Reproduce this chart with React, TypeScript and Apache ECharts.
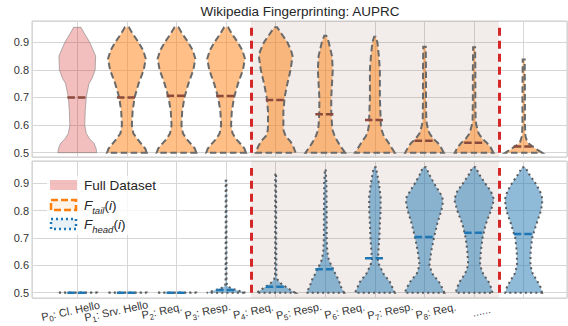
import React, { useEffect, useRef } from "react";
import * as echarts from "echarts";

// ---------------- data ----------------
const categories = [
  "P0: Cl. Hello",
  "P1: Srv. Hello",
  "P2: Req.",
  "P3: Resp.",
  "P4: Req.",
  "P5: Resp.",
  "P6: Req.",
  "P7: Resp.",
  "P8: Req.",
  "......",
];

// violin profiles: [value, half-width in category units]
const tailP0 = [[0.5, 0.39], [0.515, 0.38], [0.533, 0.34], [0.55, 0.25], [0.57, 0.18], [0.6, 0.15], [0.65, 0.16], [0.7, 0.18], [0.75, 0.235], [0.77, 0.3], [0.8, 0.36], [0.85, 0.37], [0.9, 0.25], [0.93, 0.15], [0.954, 0.075]];
const tailP1 = [[0.5, 0.4], [0.515, 0.37], [0.53, 0.3], [0.55, 0.21], [0.57, 0.13], [0.6, 0.1], [0.65, 0.115], [0.7, 0.155], [0.75, 0.235], [0.8, 0.34], [0.84, 0.38], [0.87, 0.33], [0.9, 0.235], [0.93, 0.12], [0.954, 0.04]];
const tailP2 = [[0.5, 0.4], [0.515, 0.37], [0.53, 0.3], [0.55, 0.2], [0.57, 0.13], [0.6, 0.1], [0.65, 0.115], [0.7, 0.16], [0.75, 0.24], [0.8, 0.34], [0.84, 0.38], [0.87, 0.33], [0.9, 0.235], [0.93, 0.12], [0.954, 0.04]];
const tailP3 = [[0.5, 0.4], [0.515, 0.37], [0.53, 0.3], [0.55, 0.2], [0.57, 0.13], [0.6, 0.1], [0.65, 0.115], [0.7, 0.16], [0.75, 0.24], [0.8, 0.34], [0.84, 0.38], [0.87, 0.33], [0.9, 0.235], [0.93, 0.12], [0.954, 0.04]];
const tailP4 = [[0.5, 0.4], [0.52, 0.36], [0.54, 0.3], [0.56, 0.2], [0.58, 0.16], [0.6, 0.155], [0.65, 0.155], [0.7, 0.18], [0.75, 0.235], [0.8, 0.3], [0.85, 0.34], [0.87, 0.31], [0.9, 0.235], [0.93, 0.12], [0.954, 0.03]];
const tailP5 = [[0.5, 0.4], [0.52, 0.32], [0.54, 0.25], [0.56, 0.19], [0.58, 0.15], [0.6, 0.135], [0.65, 0.12], [0.7, 0.12], [0.75, 0.135], [0.8, 0.15], [0.85, 0.135], [0.9, 0.07], [0.924, 0.02]];
const tailP6 = [[0.5, 0.4], [0.52, 0.33], [0.54, 0.26], [0.56, 0.18], [0.58, 0.14], [0.6, 0.12], [0.65, 0.11], [0.7, 0.1], [0.8, 0.1], [0.85, 0.08], [0.9, 0.05], [0.92, 0.015]];
const tailP7 = [[0.5, 0.39], [0.52, 0.33], [0.535, 0.27], [0.55, 0.18], [0.57, 0.1], [0.6, 0.05], [0.62, 0.035], [0.7, 0.03], [0.8, 0.03], [0.884, 0.025]];
const tailP8 = [[0.5, 0.39], [0.52, 0.33], [0.535, 0.26], [0.55, 0.17], [0.57, 0.09], [0.6, 0.045], [0.62, 0.03], [0.7, 0.025], [0.8, 0.025], [0.882, 0.02]];
const tailP9 = [[0.5, 0.37], [0.51, 0.28], [0.52, 0.2], [0.53, 0.12], [0.54, 0.07], [0.56, 0.035], [0.6, 0.025], [0.7, 0.025], [0.838, 0.02]];
const tailProfiles = [tailP0, tailP1, tailP2, tailP3, tailP4, tailP5, tailP6, tailP7, tailP8, tailP9];
const tailMedians = [0.7, 0.7, 0.706, 0.705, 0.691, 0.639, 0.618, 0.543, 0.536, 0.522];

const headP0 = [[0.5, 0.4], [0.5006, 0.4]];
const headP1 = [[0.5, 0.4], [0.5006, 0.4]];
const headP2 = [[0.5, 0.4], [0.5006, 0.4]];
const headP3 = [[0.5, 0.39], [0.505, 0.3], [0.51, 0.2], [0.515, 0.12], [0.52, 0.06], [0.525, 0.02], [0.54, 0.01], [0.7, 0.008], [0.909, 0.008]];
const headP4 = [[0.5, 0.39], [0.51, 0.3], [0.52, 0.22], [0.53, 0.13], [0.54, 0.07], [0.55, 0.03], [0.56, 0.015], [0.7, 0.01], [0.936, 0.008]];
const headP5 = [[0.5, 0.38], [0.52, 0.32], [0.546, 0.27], [0.57, 0.2], [0.583, 0.17], [0.6, 0.12], [0.62, 0.07], [0.65, 0.04], [0.7, 0.028], [0.8, 0.028], [0.9, 0.022], [0.95, 0.008]];
const headP6 = [[0.5, 0.4], [0.52, 0.35], [0.54, 0.3], [0.57, 0.17], [0.6, 0.09], [0.62, 0.06], [0.65, 0.07], [0.7, 0.09], [0.75, 0.1], [0.8, 0.115], [0.85, 0.115], [0.9, 0.08], [0.93, 0.05], [0.958, 0.02]];
const headP7 = [[0.5, 0.4], [0.52, 0.35], [0.54, 0.29], [0.57, 0.155], [0.6, 0.1], [0.65, 0.135], [0.7, 0.19], [0.75, 0.255], [0.8, 0.34], [0.83, 0.37], [0.85, 0.36], [0.9, 0.19], [0.93, 0.1], [0.958, 0.03]];
const headP8 = [[0.5, 0.37], [0.52, 0.34], [0.54, 0.29], [0.57, 0.18], [0.6, 0.12], [0.65, 0.135], [0.7, 0.17], [0.75, 0.235], [0.8, 0.34], [0.84, 0.4], [0.87, 0.34], [0.9, 0.22], [0.93, 0.11], [0.958, 0.03]];
const headP9 = [[0.5, 0.37], [0.52, 0.34], [0.54, 0.28], [0.57, 0.18], [0.6, 0.135], [0.65, 0.14], [0.7, 0.17], [0.75, 0.255], [0.8, 0.35], [0.84, 0.38], [0.87, 0.33], [0.9, 0.235], [0.93, 0.12], [0.958, 0.03]];
const headProfiles = [headP0, headP1, headP2, headP3, headP4, headP5, headP6, headP7, headP8, headP9];
const headMedians = [0.5, 0.5, 0.5, 0.51, 0.522, 0.586, 0.626, 0.703, 0.719, 0.714];

const phaseBoundaries = [3.5, 8.5];
const boundaryRange = [0.5, 0.955];
const shadedSpan = [3.5, 8.5];
const medianHalfWidth = 0.2;

// ---------------- styles ----------------
const FONT = "Liberation Sans";
const GRID_COLOR = "#d6d6d6";

function makeRender(profiles: number[][][], medians: number[], kind: "tail" | "head") {
  return (params: any, api: any) => {
    const i = api.value(0);
    const prof = profiles[i];
    const right = prof.map(([y, w]) => api.coord([i + w, y]));
    const left = prof
      .slice()
      .reverse()
      .map(([y, w]) => api.coord([i - w, y]));
    const pts = right.concat(left);
    const m = medians[i];
    const a = api.coord([i - medianHalfWidth, m]);
    const b = api.coord([i + medianHalfWidth, m]);
    let body: any;
    let med: any;
    if (kind === "tail" && i === 0) {
      body = { fill: "rgba(214,39,40,0.3)", stroke: "rgba(120,120,120,0.55)", lineWidth: 1 };
      med = { stroke: "#8b4a3c", lineWidth: 2.5, lineDash: [7.5, 3] };
    } else if (kind === "tail") {
      body = { fill: "rgba(255,127,14,0.5)", stroke: "#6a6a6a", lineWidth: 2, lineDash: [6.5, 3.5] };
      med = { stroke: "#8b4a3c", lineWidth: 2.5, lineDash: [7.5, 3] };
    } else {
      body = { fill: "rgba(31,119,180,0.5)", stroke: "#5a5a5a", lineWidth: 2, lineDash: [2, 3.2] };
      med = { stroke: "#1f77b4", lineWidth: 2.5, lineDash: [7.5, 3] };
    }
    return {
      type: "group",
      children: [
        { type: "polygon", shape: { points: pts }, style: body },
        { type: "line", shape: { x1: a[0], y1: a[1], x2: b[0], y2: b[1] }, style: med },
      ],
    };
  };
}

function labelFormatter(v: string) {
  const m = /^P(\d+)(.*)$/.exec(v);
  if (!m) return "{p|" + v + "}";
  return "{p|P}{s|" + m[1] + "}{p|" + m[2] + "}";
}

export default function App() {
  const ref = useRef<HTMLDivElement>(null);
  useEffect(() => {
    if (!ref.current) return;
    const chart = echarts.init(ref.current, undefined, { renderer: "svg" });
    const xMin = -0.913;
    const xMax = 9.873;
    const yAxisCommon = (min: number, max: number, gridIndex: number) => ({
      type: "value",
      gridIndex,
      min,
      max,
      minInterval: 0.1,
      maxInterval: 0.1,
      axisLine: { show: false },
      axisTick: { show: false },
      splitLine: { show: true, lineStyle: { color: GRID_COLOR, width: 1 } },
      axisLabel: {
        show: true,
        showMinLabel: false,
        showMaxLabel: false,
        formatter: (v: number) => v.toFixed(1),
        fontSize: 11,
        fontFamily: FONT,
        color: "#333333",
        margin: 3,
      },
    });
    const xAxisCommon = (gridIndex: number) => ({
      type: "value",
      gridIndex,
      min: xMin,
      max: xMax,
      minInterval: 1,
      maxInterval: 1,
      axisLine: { show: false },
      axisTick: { show: false },
      axisLabel: { show: false },
      splitLine: { show: true, lineStyle: { color: GRID_COLOR, width: 1 } },
    });
    const shade = (xi: number) => ({
      type: "line",
      xAxisIndex: xi,
      yAxisIndex: xi,
      data: [],
      silent: true,
      markArea: {
        silent: true,
        itemStyle: { color: "rgba(140,86,75,0.11)" },
        data: [[{ xAxis: shadedSpan[0] }, { xAxis: shadedSpan[1] }]],
      },
      markLine: {
        silent: true,
        symbol: "none",
        label: { show: false },
        lineStyle: { color: "#d62728", width: 3, type: [8, 5] },
        data: phaseBoundaries.map((x) => [
          { coord: [x, boundaryRange[0]] },
          { coord: [x, boundaryRange[1]] },
        ]),
      },
    });
    const option: any = {
      animation: false,
      backgroundColor: "#ffffff",
      grid: [
        { left: 32, right: 1, top: 21, height: 136, show: true, borderColor: "#cccccc", borderWidth: 1, backgroundColor: "transparent" },
        { left: 32, right: 1, top: 161, height: 137, show: true, borderColor: "#cccccc", borderWidth: 1, backgroundColor: "transparent" },
        { left: 47.67, right: 63.67, top: 161, height: 137, show: false },
      ],
      xAxis: [
        xAxisCommon(0),
        xAxisCommon(1),
        {
          type: "category",
          gridIndex: 2,
          data: categories,
          axisLine: { show: false },
          axisTick: { show: false },
          splitLine: { show: false },
          axisLabel: {
            interval: 0,
            rotate: 12,
            align: "center",
            verticalAlign: "middle",
            margin: 17,
            formatter: labelFormatter,
            rich: {
              p: { fontSize: 11, fontFamily: FONT, color: "#333333", lineHeight: 16, verticalAlign: "middle" },
              s: { fontSize: 8, fontFamily: FONT, color: "#333333", lineHeight: 16, verticalAlign: "bottom" },
            },
          },
        },
      ],
      yAxis: [
        yAxisCommon(0.4844, 0.977, 0),
        yAxisCommon(0.4807, 0.9807, 1),
        { type: "value", gridIndex: 2, show: false },
      ],
      series: [
        shade(0),
        shade(1),
        {
          type: "custom",
          xAxisIndex: 0,
          yAxisIndex: 0,
          clip: false,
          silent: true,
          renderItem: makeRender(tailProfiles, tailMedians, "tail"),
          encode: { x: 0, y: 1 },
          data: categories.map((_, i) => [i, tailMedians[i]]),
        },
        {
          type: "custom",
          xAxisIndex: 1,
          yAxisIndex: 1,
          clip: false,
          silent: true,
          renderItem: makeRender(headProfiles, headMedians, "head"),
          encode: { x: 0, y: 1 },
          data: categories.map((_, i) => [i, headMedians[i]]),
        },
      ],
      graphic: [
        {
          type: "text",
          x: 300,
          y: 11,
          z: 100,
          style: {
            text: "Wikipedia Fingerprinting: AUPRC",
            align: "center",
            verticalAlign: "middle",
            fontSize: 13.5,
            fontFamily: FONT,
            fill: "#262626",
          },
        },
        { type: "rect", z: 100, shape: { x: 47, y: 176, width: 113, height: 59, r: 3 }, style: { fill: "rgba(255,255,255,0.8)", stroke: "none" } },
        { type: "rect", z: 101, shape: { x: 50, y: 180, width: 27, height: 10 }, style: { fill: "rgba(214,39,40,0.3)", stroke: "none" } },
        { type: "rect", z: 101, shape: { x: 51, y: 200, width: 25, height: 10 }, style: { fill: "rgba(255,127,14,0.1)", stroke: "#ff7f0e", lineWidth: 2.5, lineDash: [7, 3] } },
        { type: "rect", z: 101, shape: { x: 51, y: 219, width: 25, height: 10 }, style: { fill: "rgba(31,119,180,0.1)", stroke: "#1f77b4", lineWidth: 2.5, lineDash: [2, 3] } },
        {
          type: "text",
          z: 101,
          x: 84,
          y: 185.5,
          style: { text: "Full Dataset", fontSize: 13.5, fontFamily: FONT, fill: "#262626", verticalAlign: "middle" },
        },
        {
          type: "text",
          z: 101,
          x: 84,
          y: 205,
          style: {
            text: "{f|F}{s|tail}{n|(}{f|i}{n|)}",
            verticalAlign: "middle",
            rich: {
              f: { fontSize: 13.5, fontStyle: "italic", fontFamily: FONT, fill: "#262626", lineHeight: 20, verticalAlign: "middle" },
              n: { fontSize: 13.5, fontFamily: FONT, fill: "#262626", lineHeight: 20, verticalAlign: "middle" },
              s: { fontSize: 9.5, fontStyle: "italic", fontFamily: FONT, fill: "#262626", lineHeight: 20, verticalAlign: "bottom" },
            },
          },
        },
        {
          type: "text",
          z: 101,
          x: 84,
          y: 224.5,
          style: {
            text: "{f|F}{s|head}{n|(}{f|i}{n|)}",
            verticalAlign: "middle",
            rich: {
              f: { fontSize: 13.5, fontStyle: "italic", fontFamily: FONT, fill: "#262626", lineHeight: 20, verticalAlign: "middle" },
              n: { fontSize: 13.5, fontFamily: FONT, fill: "#262626", lineHeight: 20, verticalAlign: "middle" },
              s: { fontSize: 9.5, fontStyle: "italic", fontFamily: FONT, fill: "#262626", lineHeight: 20, verticalAlign: "bottom" },
            },
          },
        },
      ],
    };
    chart.setOption(option);
    return () => chart.dispose();
  }, []);
  return (
    <div
      ref={ref}
      style={{ position: "absolute", left: 0, top: 0, width: 568, height: 326, background: "#fff" }}
    />
  );
}
